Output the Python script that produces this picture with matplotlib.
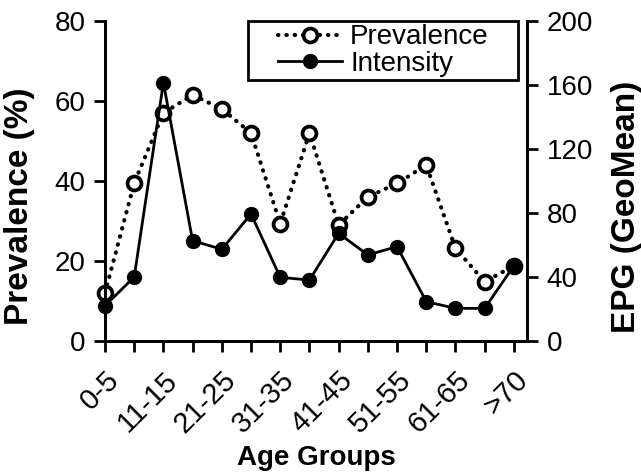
import matplotlib
matplotlib.use('Agg')
from matplotlib import pyplot as plt
from matplotlib.path import Path

plt.rcParams['font.family'] = ['Liberation Sans', 'DejaVu Sans']

age_groups = ['0-5', '6-10', '11-15', '16-20', '21-25', '26-30', '31-35', '36-40',
              '41-45', '46-50', '51-55', '56-60', '61-65', '66-70', '>70']
prevalence = [12, 39.5, 57, 61.5, 58, 52, 29.3, 52, 29, 36, 39.4, 44, 23.2, 14.8, 18.8]
intensity = [22, 40, 161.5, 62.7, 57.3, 79.4, 39.8, 38.1, 67.3, 53.8, 59, 24.6, 20.4, 20.4, 47]

x = list(range(len(age_groups)))


def wide_box(x0, y0, width, height, mutation_size):
    # legend frame with more room left/right than top/bottom
    px = 0.95 * mutation_size
    verts = [(x0 - px, y0), (x0 + width + px, y0), (x0 + width + px, y0 + height),
             (x0 - px, y0 + height), (x0 - px, y0)]
    return Path(verts, closed=True)


fig = plt.figure(figsize=(6.41, 4.73), dpi=100)
ax1 = fig.add_axes([105 / 641, 1 - 341 / 473, 422 / 641, 320 / 473])
ax2 = ax1.twinx()

p_line, = ax1.plot(x, prevalence, color='black', linestyle=(0, (0.1, 1.9)), linewidth=3,
                   dash_capstyle='round', marker='o', markersize=10, markerfacecolor='white',
                   markeredgecolor='black', markeredgewidth=2.7, clip_on=False, label='Prevalence')
i_line, = ax2.plot(x, intensity, color='black', linewidth=2, marker='o', markersize=10,
                   clip_on=False, label='Intensity')

ax1.set_xlim(0, 14.45)
ax1.set_ylim(0, 80)
ax2.set_ylim(0, 200)
ax1.set_yticks([0, 20, 40, 60, 80])
ax2.set_yticks([0, 40, 80, 120, 160, 200])
ax1.set_xticks(x)
ax1.set_xticklabels([lab if i % 2 == 0 else '' for i, lab in enumerate(age_groups)],
                    rotation=45, ha='right', rotation_mode='anchor')

for ax in (ax1, ax2):
    ax.spines['top'].set_visible(False)
    for s in ('left', 'right', 'bottom'):
        ax.spines[s].set_linewidth(2)
    ax.tick_params(axis='both', direction='out', length=8, width=2, labelsize=20, pad=6)
ax1.tick_params(axis='x', labelsize=21, pad=10)

ax1.set_ylabel('Prevalence (%)', fontsize=24, fontweight='bold')
ax2.set_ylabel('EPG (GeoMean)', fontsize=24, fontweight='bold')
ax1.yaxis.set_label_coords(-0.166, 0.42)
ax2.yaxis.set_label_coords(1.199, 0.42)
fig.text(316 / 641, 1 - 465 / 473, 'Age Groups', fontsize=20, fontweight='bold',
         ha='center', va='baseline')

leg = ax2.legend(handles=[p_line, i_line], loc='upper right', bbox_to_anchor=(0.917, 1.0),
                 fontsize=20, frameon=True, fancybox=False, framealpha=1, borderpad=0.12,
                 labelspacing=0.02, handlelength=2.3, handletextpad=0.3, borderaxespad=0)
leg.get_frame().set_boxstyle(wide_box)
leg.get_frame().set_edgecolor('black')
leg.get_frame().set_linewidth(2)

fig.savefig('out.png', dpi=100)
